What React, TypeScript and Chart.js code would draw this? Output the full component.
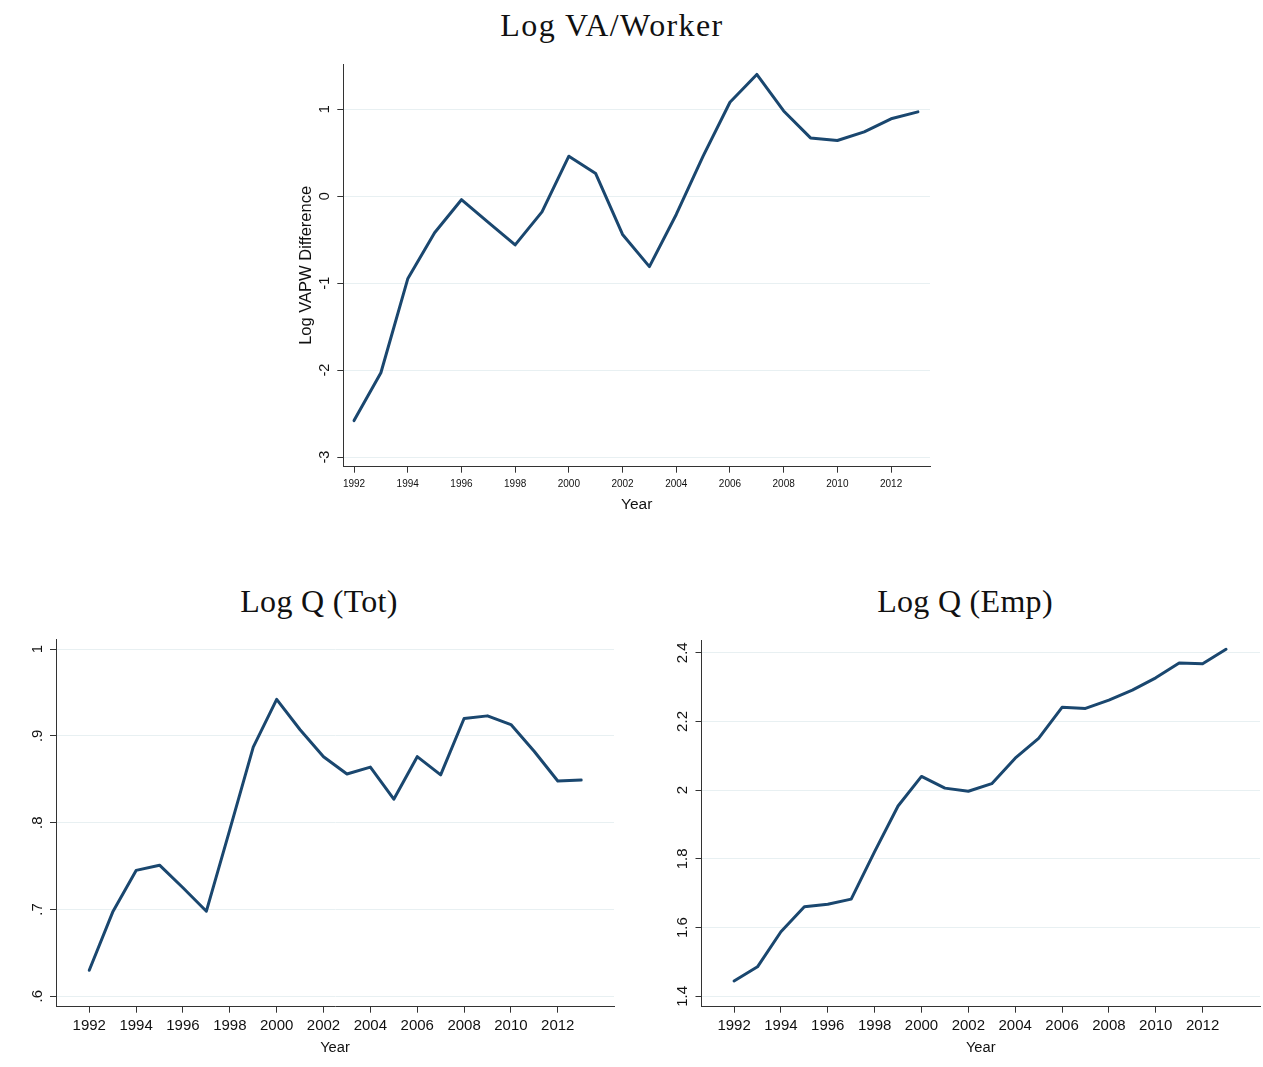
import React, { useEffect, useRef } from "react";
import { Chart, registerables } from "chart.js";

Chart.register(...registerables);

// ---- data ----
const years = [
  1992, 1993, 1994, 1995, 1996, 1997, 1998, 1999, 2000, 2001, 2002,
  2003, 2004, 2005, 2006, 2007, 2008, 2009, 2010, 2011, 2012, 2013,
];

const logVapwDiff = [
  -2.58, -2.03, -0.95, -0.42, -0.04, -0.3, -0.56, -0.18, 0.46, 0.26, -0.44,
  -0.81, -0.21, 0.46, 1.08, 1.4, 0.98, 0.67, 0.64, 0.74, 0.89, 0.97,
];

const logQTot = [
  0.63, 0.697, 0.745, 0.751, 0.725, 0.698, 0.792, 0.887, 0.942, 0.907, 0.876,
  0.856, 0.864, 0.827, 0.876, 0.855, 0.92, 0.923, 0.913, 0.882, 0.848, 0.849,
];

const logQEmp = [
  1.445, 1.486, 1.588, 1.661, 1.668, 1.683, 1.821, 1.954, 2.04, 2.006, 1.997,
  2.019, 2.093, 2.151, 2.241, 2.238, 2.262, 2.291, 2.327, 2.37, 2.368, 2.41,
];

const yearTicks = [1992, 1994, 1996, 1998, 2000, 2002, 2004, 2006, 2008, 2010, 2012];
const vapwTicks = [-3, -2, -1, 0, 1];
const qTotTicks = [0.6, 0.7, 0.8, 0.9, 1];
const qEmpTicks = [1.4, 1.6, 1.8, 2, 2.2, 2.4];

// ---- styling ----
const LINE = "#1a476f";
const AXIS = "#333333";
const GRID = "#e8f0f2";
const TEXT = "#111111";
const SANS = "'Liberation Sans', Arial, sans-serif";
const SERIF = "'Liberation Serif', 'Times New Roman', serif";

type PanelProps = {
  left: number;
  top: number;
  width: number;
  height: number;
  areaTop: number;
  yAxisWidth: number;
  xAxisHeight: number;
  rightPad: number;
  values: number[];
  xMin: number;
  xMax: number;
  yMin: number;
  yMax: number;
  yTicks: number[];
  yFormat: (v: number) => string;
  xTickSize: number;
  xTickPad: number;
  yTickSize: number;
  yTickPad: number;
  xTitleSize: number;
  xTitlePad: number;
  yTitle?: string;
  yTitleSize?: number;
  yTitlePad?: number;
};

function zeroPadding(s: any) {
  s.paddingLeft = 0;
  s.paddingRight = 0;
  s.paddingTop = 0;
  s.paddingBottom = 0;
}

function Panel(p: PanelProps) {
  const ref = useRef<HTMLCanvasElement | null>(null);

  useEffect(() => {
    if (!ref.current) return;
    const chart = new Chart(ref.current, {
      type: "line",
      data: {
        datasets: [
          {
            data: years.map((y, i) => ({ x: y, y: p.values[i] })),
            borderColor: LINE,
            borderWidth: 3,
            pointRadius: 0,
            tension: 0,
            borderJoinStyle: "round",
            borderCapStyle: "round",
            fill: false,
          },
        ],
      },
      options: {
        animation: false,
        responsive: false,
        maintainAspectRatio: false,
        events: [],
        layout: {
          padding: { left: 0, top: p.areaTop, right: p.rightPad, bottom: 0 },
        },
        plugins: {
          legend: { display: false },
          tooltip: { enabled: false },
          title: { display: false },
        },
        scales: {
          x: {
            type: "linear",
            min: p.xMin,
            max: p.xMax,
            afterBuildTicks: (s: any) => {
              s.ticks = yearTicks.map((v) => ({ value: v }));
            },
            afterFit: (s: any) => {
              s.height = p.xAxisHeight;
              zeroPadding(s);
            },
            grid: {
              drawOnChartArea: false,
              drawTicks: true,
              tickLength: 6,
              tickColor: AXIS,
              lineWidth: 1,
            },
            border: { display: true, color: AXIS, width: 1 },
            ticks: {
              autoSkip: false,
              minRotation: 0,
              maxRotation: 0,
              padding: p.xTickPad,
              color: TEXT,
              font: { family: SANS, size: p.xTickSize },
              callback: (v: any) => String(v),
            },
            title: {
              display: true,
              text: "Year",
              color: TEXT,
              font: { family: SANS, size: p.xTitleSize },
              padding: { top: 0, bottom: p.xTitlePad },
            },
          },
          y: {
            type: "linear",
            min: p.yMin,
            max: p.yMax,
            afterBuildTicks: (s: any) => {
              s.ticks = p.yTicks.map((v) => ({ value: v }));
            },
            afterFit: (s: any) => {
              s.width = p.yAxisWidth;
              zeroPadding(s);
            },
            grid: {
              drawOnChartArea: true,
              drawTicks: true,
              tickLength: 6,
              color: GRID,
              tickColor: AXIS,
              lineWidth: 1,
            },
            border: { display: true, color: AXIS, width: 1 },
            ticks: {
              autoSkip: false,
              minRotation: 90,
              maxRotation: 90,
              crossAlign: "center",
              padding: p.yTickPad,
              color: TEXT,
              font: { family: SANS, size: p.yTickSize },
              callback: (v: any) => p.yFormat(Number(v)),
            },
            title: {
              display: !!p.yTitle,
              text: p.yTitle || "",
              color: TEXT,
              font: { family: SANS, size: p.yTitleSize || 14 },
              padding: { top: p.yTitlePad || 0, bottom: 0 },
            },
          },
        },
      },
    } as any);
    return () => chart.destroy();
  }, []);

  return (
    <canvas
      ref={ref}
      width={p.width}
      height={p.height}
      style={{
        position: "absolute",
        left: p.left,
        top: p.top,
        width: p.width,
        height: p.height,
      }}
    />
  );
}

function Heading({
  text,
  cx,
  top,
  spacing = 0,
}: {
  text: string;
  cx: number;
  top: number;
  spacing?: number;
}) {
  return (
    <div
      style={{
        position: "absolute",
        left: cx,
        top,
        transform: "translateX(-50%)",
        whiteSpace: "nowrap",
        fontFamily: SERIF,
        fontSize: 32,
        lineHeight: "32px",
        letterSpacing: spacing,
        color: "#111",
      }}
    >
      {text}
    </div>
  );
}

const plainNum = (v: number) => String(v);
const dotNum = (v: number) => (v < 1 ? String(v).replace(/^0/, "") : String(v));

export default function App() {
  return (
    <div
      style={{
        position: "absolute",
        left: 0,
        top: 0,
        width: 1263,
        height: 1067,
        background: "#ffffff",
        overflow: "hidden",
      }}
    >
      <Heading text="Log VA/Worker" cx={612} top={9.2} spacing={1.4} />
      <Panel
        left={280}
        top={60}
        width={660}
        height={465}
        areaTop={4}
        yAxisWidth={63.3}
        xAxisHeight={58.3}
        rightPad={10}
        values={logVapwDiff}
        xMin={1991.6}
        xMax={2013.45}
        yMin={-3.11}
        yMax={1.52}
        yTicks={vapwTicks}
        yFormat={plainNum}
        xTickSize={10}
        xTickPad={5.5}
        yTickSize={14.5}
        yTickPad={5.6}
        xTitleSize={15.5}
        xTitlePad={10.7}
        yTitle="Log VAPW Difference"
        yTitleSize={16.5}
        yTitlePad={16.1}
      />

      <Heading text="Log Q (Tot)" cx={319} top={584.9} spacing={0.3} />
      <Panel
        left={0}
        top={630}
        width={630}
        height={437}
        areaTop={9.3}
        yAxisWidth={56}
        xAxisHeight={60.3}
        rightPad={16}
        values={logQTot}
        xMin={1990.58}
        xMax={2014.4}
        yMin={0.588}
        yMax={1.0112}
        yTicks={qTotTicks}
        yFormat={dotNum}
        xTickSize={15}
        xTickPad={3.8}
        yTickSize={15}
        yTickPad={5.75}
        xTitleSize={14.7}
        xTitlePad={10.2}
      />

      <Heading text="Log Q (Emp)" cx={965} top={584.9} spacing={0.3} />
      <Panel
        left={640}
        top={630}
        width={623}
        height={437}
        areaTop={10}
        yAxisWidth={61.5}
        xAxisHeight={60.3}
        rightPad={3}
        values={logQEmp}
        xMin={1990.61}
        xMax={2014.45}
        yMin={1.37}
        yMax={2.437}
        yTicks={qEmpTicks}
        yFormat={plainNum}
        xTickSize={15}
        xTickPad={3.8}
        yTickSize={15}
        yTickPad={2.1}
        xTitleSize={14.7}
        xTitlePad={10.2}
      />
    </div>
  );
}
